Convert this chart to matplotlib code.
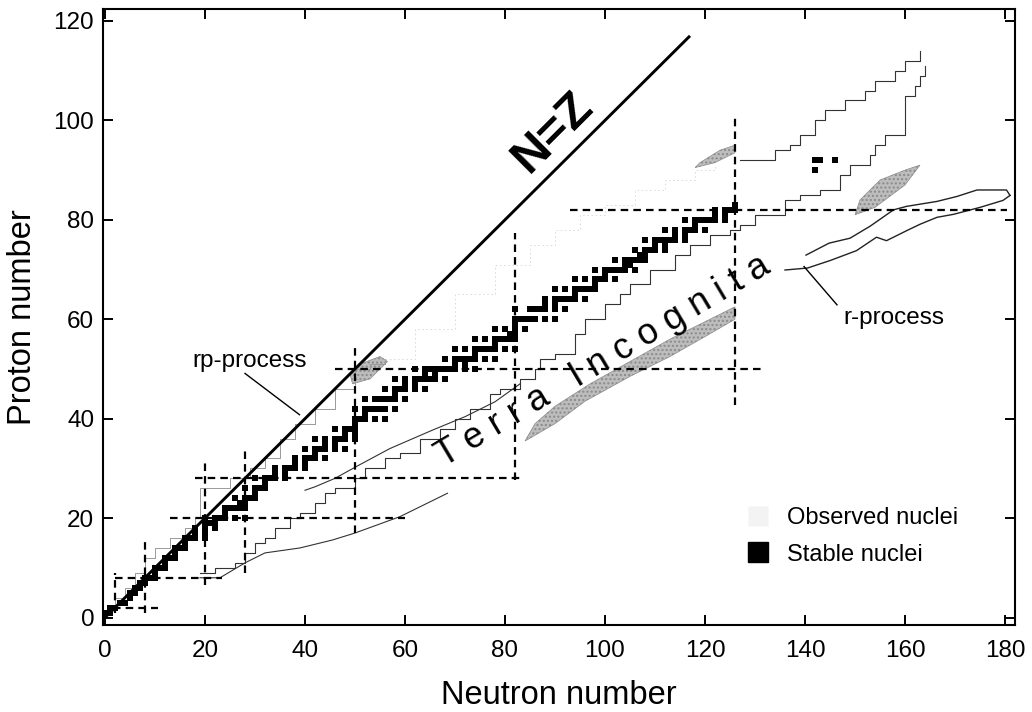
import matplotlib
matplotlib.use('Agg')
import matplotlib.pyplot as plt
from matplotlib.lines import Line2D
from matplotlib.patches import Polygon

plt.rcParams['font.family'] = ['Liberation Sans', 'DejaVu Sans']

# ---------------- data ----------------
# stable (and primordial) nuclei: proton number Z -> neutron numbers N
stable_N_by_Z = {
    1: [0, 1], 2: [1, 2], 3: [3, 4], 4: [5], 5: [5, 6], 6: [6, 7], 7: [7, 8],
    8: [8, 9, 10], 9: [10], 10: [10, 11, 12], 11: [12], 12: [12, 13, 14],
    13: [14], 14: [14, 15, 16], 15: [16], 16: [16, 17, 18, 20], 17: [18, 20],
    18: [18, 20, 22], 19: [20, 21, 22], 20: [20, 22, 23, 24, 26, 28], 21: [24],
    22: [24, 25, 26, 27, 28], 23: [27, 28], 24: [26, 28, 29, 30], 25: [30],
    26: [28, 30, 31, 32], 27: [32], 28: [30, 32, 33, 34, 36], 29: [34, 36],
    30: [34, 36, 37, 38, 40], 31: [38, 40], 32: [38, 40, 41, 42, 44], 33: [42],
    34: [40, 42, 43, 44, 46, 48], 35: [44, 46], 36: [42, 44, 46, 47, 48, 50],
    37: [48, 50], 38: [46, 48, 49, 50], 39: [50], 40: [50, 51, 52, 54, 56],
    41: [52], 42: [50, 52, 53, 54, 55, 56, 58], 44: [52, 54, 55, 56, 57, 58, 60],
    45: [58], 46: [56, 58, 59, 60, 62, 64], 47: [60, 62],
    48: [58, 60, 62, 63, 64, 65, 66, 68], 49: [64, 66],
    50: [62, 64, 65, 66, 67, 68, 69, 70, 72, 74], 51: [70, 72],
    52: [68, 70, 71, 72, 73, 74, 76, 78], 53: [74],
    54: [70, 72, 74, 75, 76, 77, 78, 80, 82], 55: [78],
    56: [74, 76, 78, 79, 80, 81, 82], 57: [81, 82], 58: [78, 80, 82, 84],
    59: [82], 60: [82, 83, 84, 85, 86, 88, 90], 62: [82, 85, 86, 87, 88, 90, 92],
    63: [88, 90], 64: [88, 90, 91, 92, 93, 94, 96], 65: [94],
    66: [90, 92, 94, 95, 96, 97, 98], 67: [98], 68: [94, 96, 98, 99, 100, 102],
    69: [100], 70: [98, 100, 101, 102, 103, 104, 106], 71: [104, 105],
    72: [102, 104, 105, 106, 107, 108], 73: [107, 108],
    74: [106, 108, 109, 110, 112], 75: [110, 112],
    76: [108, 110, 111, 112, 113, 114, 116], 77: [114, 116],
    78: [112, 114, 116, 117, 118, 120], 79: [118],
    80: [116, 118, 119, 120, 121, 122, 124], 81: [122, 124],
    82: [122, 124, 125, 126], 83: [126], 90: [142], 92: [142, 143, 146],
}

# neutron-rich edge of the observed nuclei
obs_right_N = [19, 22, 26, 28, 30, 32, 34, 37, 39, 42, 44, 46, 50, 52, 56, 59,
               63, 67, 70, 73, 77, 79, 83, 86, 87, 90, 94, 96, 100, 103, 105,
               109, 114, 117, 121, 125, 127, 130, 136, 139, 143, 147, 149, 153,
               154, 156, 160, 160, 162, 163, 164]
obs_right_Z = [9, 10, 11, 13, 15, 16, 18, 20, 21, 23, 25, 26, 28, 30, 32, 33,
               36, 38, 40, 42, 45, 46, 48, 50, 52, 53, 57, 60, 63, 65, 67,
               70, 73, 75, 77, 78, 79, 81, 84, 85, 86, 89, 91, 93,
               95, 97, 100, 105, 107, 109, 111]

# proton-rich edge of the observed light nuclei (rp-process side)
obs_left_N = [0, 1, 2, 4, 6, 8, 10, 13, 16, 18, 19, 19, 22, 25, 29, 32, 35, 38,
              42, 46, 50, 53, 56]
obs_left_Z = [1, 2, 4, 6, 9, 12, 14, 16, 18, 20, 23, 26, 26, 28, 30, 32, 36, 39,
              42, 46, 50, 51, 52]

# proton-rich edge of the observed medium nuclei (very faint in the scan)
obs_mid_N = [56, 62, 70, 78, 85, 90, 95, 100, 106, 112, 118, 122]
obs_mid_Z = [52, 58, 65, 71, 75, 78, 81, 83, 86, 88, 90, 91]

# proton-rich edge of the observed heavy nuclei
obs_heavy_N = [127, 132, 134, 137, 139, 142, 144, 148, 152, 154, 158, 160, 163]
obs_heavy_Z = [92, 92, 94, 95, 97, 100, 102, 104, 106, 108, 110, 112, 114]

# neutron drip line (lower smooth curve)
drip_N = [19, 23, 28, 32, 39, 45.5, 50, 59, 68.5]
drip_Z = [8, 8, 11, 13, 14, 15.6, 17, 20.3, 25]

# second r-process path curve
path_N = [40, 42, 46, 50.5, 57, 65.5, 72, 78, 83]
path_Z = [25.6, 26.3, 28, 30.5, 34, 37.7, 40.4, 43.4, 47]

# r-process region (closed contour at heavy masses)
rloop_low_N = [136, 140.5, 145, 150.3, 154.3, 156.3, 160.3, 163, 166.4, 169.7,
               175, 179.6, 181]
rloop_low_Z = [69.9, 70.3, 71.8, 73.8, 76.5, 75.8, 77.8, 79.1, 80.5, 81.1,
               82.5, 83.9, 84.9]
rloop_up_N = [140.2, 144.8, 149, 153, 157.7, 160.3, 166.4, 170.4, 174.4, 180.3, 181]
rloop_up_Z = [72.9, 75.3, 76.3, 78.7, 82, 82.7, 83.7, 84.7, 86, 86, 84.9]

# r-process abundance bands (gray dotted areas)
bandA_N = [84, 90, 96, 105, 113, 120, 126, 126, 120, 113, 105, 97, 90, 86]
bandA_Z = [35.5, 39, 43.5, 48.5, 52.5, 56.5, 60, 62.5, 59.5, 56, 51.5, 47, 42.5, 39]
bandB_N = [150, 154, 160, 163, 160, 155, 151]
bandB_Z = [81, 82.5, 87, 91, 90, 88, 84]
bandC_N = [118, 122, 126, 126, 123, 119]
bandC_Z = [90.5, 91.5, 93.5, 95, 94, 91.5]
bandD_N = [49.5, 53, 56.5, 55, 51, 49]
bandD_Z = [47, 48, 51.5, 52.5, 51, 49]

# magic numbers: (value, start, end)
magic_vertical = [(2, 1, 9), (8, 1, 15.6), (20, 6.6, 31), (28, 9, 33.7),
                  (50, 17, 54.2), (82, 27.7, 77.3), (126, 42.8, 100.4)]
magic_horizontal = [(2, 1.5, 10.5), (8, 2, 23.3), (20, 13, 60), (28, 18, 83.5),
                    (50, 46, 132), (82, 93, 180.3)]

nz_line = [0, 117]

x_ticks = [0, 20, 40, 60, 80, 100, 120, 140, 160, 180]
y_ticks = [0, 20, 40, 60, 80, 100, 120]

# ---------------- figure ----------------
fig = plt.figure(figsize=(10.32, 7.12), dpi=100)
ax = fig.add_axes([102.5 / 1032, 1 - 625 / 712, 912.5 / 1032, 615.5 / 712])
ax.set_xlim(-0.5, 182)
ax.set_ylim(-1.5, 122.3)

thin = dict(color='#333333', lw=0.8)

# gray bands
for bn, bz in [(bandA_N, bandA_Z), (bandB_N, bandB_Z), (bandC_N, bandC_Z), (bandD_N, bandD_Z)]:
    ax.add_patch(Polygon(list(zip(bn, bz)), closed=True, facecolor='#bdbdbd',
                         edgecolor='#8a8a8a', lw=0.5, hatch='....', zorder=1))

# observed nuclei edges
ax.step(obs_right_N, obs_right_Z, where='post', **thin, zorder=2)
ax.step(obs_left_N, obs_left_Z, where='post', color='#9a9a9a', lw=0.7, zorder=2)
ax.step(obs_mid_N, obs_mid_Z, where='post', color='#d6d6d6', lw=0.6,
        linestyle=(0, (2, 3)), zorder=2)
ax.step(obs_heavy_N, obs_heavy_Z, where='post', **thin, zorder=2)
ax.plot(drip_N, drip_Z, **thin, zorder=2)
ax.plot(path_N, path_Z, **thin, zorder=2)
ax.plot(rloop_low_N, rloop_low_Z, color='#222222', lw=1.0, zorder=2)
ax.plot(rloop_up_N, rloop_up_Z, color='#222222', lw=1.0, zorder=2)

# magic-number dashed lines
dash = dict(color='black', lw=1.6, linestyle=(0, (3.4, 2.3)), zorder=3)
for v, a, b in magic_vertical:
    ax.plot([v, v], [a, b], **dash)
for v, a, b in magic_horizontal:
    ax.plot([a, b], [v, v], **dash)

# stable nuclei
sN, sZ = [], []
for z, ns in stable_N_by_Z.items():
    for n in ns:
        sN.append(n)
        sZ.append(z)
ax.scatter(sN, sZ, marker='s', s=18, c='black', linewidths=0, zorder=4)

# N = Z line
ax.plot(nz_line, nz_line, color='black', lw=2.1, zorder=5, solid_capstyle='butt')

# annotations
ax.text(89.5, 97.6, 'N=Z', rotation=45, fontsize=35, fontweight='bold',
        ha='center', va='center', rotation_mode='anchor')
ax.text(99.6, 51.5, 'T e r r a   I n c o g n i t a', rotation=30.8, fontsize=26,
        ha='center', va='center', rotation_mode='anchor', zorder=6)
ax.text(29.0, 51.6, 'rp-process', fontsize=17.5, ha='center', va='center')
ax.plot([28.0, 38.9], [49.1, 40.8], color='black', lw=1.0)
ax.text(157.7, 60.2, 'r-process', fontsize=17.5, ha='center', va='center')
ax.plot([139.8, 146.4], [70.6, 62.9], color='black', lw=1.0)

# legend
handles = [Line2D([], [], marker='s', ls='none', markersize=14,
                  markerfacecolor='#f3f3f3', markeredgecolor='none'),
           Line2D([], [], marker='s', ls='none', markersize=14, color='black')]
ax.legend(handles, ['Observed nuclei', 'Stable nuclei'], loc='center left',
          bbox_to_anchor=(0.7054, 0.144), frameon=False, fontsize=17,
          handlelength=1.0, handletextpad=0.73, labelspacing=0.62,
          borderaxespad=0, borderpad=0)

# axes styling
ax.set_xticks(x_ticks)
ax.set_yticks(y_ticks)
ax.tick_params(direction='in', length=7.5, width=1.4, labelsize=17.5,
               top=True, right=True)
ax.tick_params(axis='x', pad=11)
ax.tick_params(axis='y', pad=6)
for sp in ax.spines.values():
    sp.set_linewidth(1.5)
ax.set_xlabel('Neutron number', fontsize=23.5, labelpad=13)
ax.set_ylabel('Proton number', fontsize=23.5, labelpad=11)

fig.savefig('out.png', dpi=100)
